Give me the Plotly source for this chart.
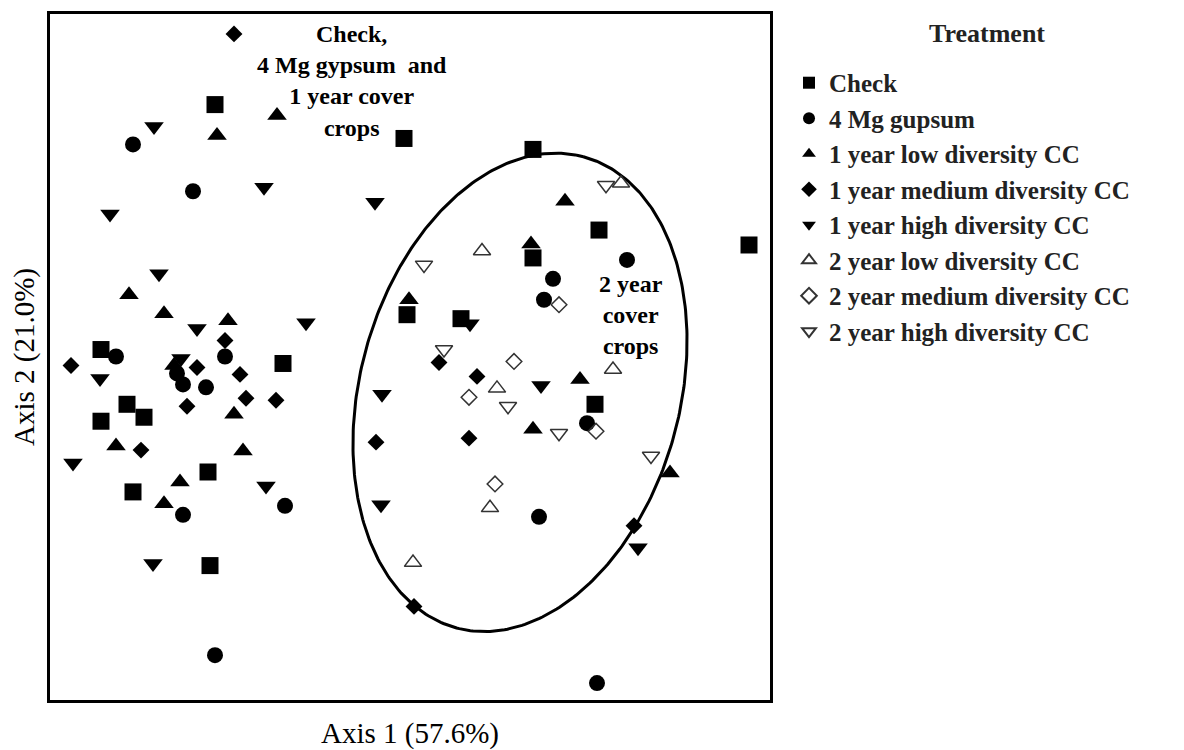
import numpy as np
import plotly.graph_objects as go

# ---- data (ordination scores, arbitrary units) ----
check_x = [165, 354, 483, 549, 699, 483, 357, 411, 545, 51, 233, 77, 94, 51, 158, 83, 160]
check_y = [598, 564, 553, 472, 457, 444, 387, 383, 297, 352, 338, 297, 284, 280, 229, 209, 135]

gyp_x = [83, 143, 577, 503, 494, 66, 175, 133, 156, 537, 235, 133, 489, 165, 547, 127]
gyp_y = [558, 511, 442, 423, 402, 345, 345, 317, 314, 278, 195, 186, 184, 45, 17, 328]

low1_x = [227, 167, 515, 481, 359, 79, 114, 178, 124, 530, 184, 66, 193, 483, 130, 114, 620]
low1_y = [587, 567, 501, 458, 402, 407, 388, 381, 336, 322, 287, 255, 250, 272, 219, 197, 228]

med1_x = [184, 175, 21, 147, 190, 137, 196, 226, 91, 389, 427, 326, 419, 364, 584]
med1_y = [669, 361, 336, 334, 327, 295, 303, 301, 251, 339, 325, 259, 263, 94, 175]

high1_x = [104, 214, 60, 325, 109, 147, 256, 131, 50, 420, 332, 491, 23, 216, 331, 103, 588]
high1_y = [576, 515, 488, 500, 428, 373, 379, 343, 323, 378, 307, 316, 238, 215, 196, 137, 153]

low2_x = [571, 432, 563, 447, 440, 363]
low2_y = [519, 451, 332, 313, 193, 138]

med2_x = [509, 464, 419, 546, 445]
med2_y = [397, 340, 304, 270, 217]

high2_x = [556, 374, 394, 458, 509, 601]
high2_y = [517, 437, 352, 295, 268, 245]

names = ["Check", "4 Mg gupsum", "1 year low diversity CC", "1 year medium diversity CC",
         "1 year high diversity CC", "2 year low diversity CC", "2 year medium diversity CC",
         "2 year high diversity CC"]

# ellipse (2 year cover crops grouping)
ell_cx, ell_cy, ell_a, ell_b, ell_tilt_deg = 470, 309, 245, 160, 15

FONT = "Liberation Serif"

fig = go.Figure()

series = [
    (check_x, check_y, "square", 17, "black", 0),
    (gyp_x, gyp_y, "circle", 16, "black", 0),
    (low1_x, low1_y, "triangle-up", 17, "black", 0),
    (med1_x, med1_y, "diamond", 13, "black", 0),
    (high1_x, high1_y, "triangle-down", 17, "black", 0),
    (low2_x, low2_y, "triangle-up-open", 15, "#333333", 1.5),
    (med2_x, med2_y, "diamond-open", 12, "#333333", 1.5),
    (high2_x, high2_y, "triangle-down-open", 15, "#333333", 1.5),
]

# ellipse line
t = np.linspace(0, 2 * np.pi, 361)
th = np.deg2rad(ell_tilt_deg)
ux, uy = np.sin(th), np.cos(th)
vx, vy = np.cos(th), -np.sin(th)
ex = ell_cx + ell_a * np.cos(t) * ux + ell_b * np.sin(t) * vx
ey = ell_cy + ell_a * np.cos(t) * uy + ell_b * np.sin(t) * vy
fig.add_trace(go.Scatter(x=ex, y=ey, mode="lines", line=dict(color="black", width=3),
                         showlegend=False, hoverinfo="skip"))

for (xs, ys, sym, size, col, lw), name in zip(series, names):
    fig.add_trace(go.Scatter(
        x=xs, y=ys, mode="markers", name=name,
        marker=dict(symbol=sym, size=size, color=col,
                    line=dict(width=lw, color=col)),
    ))

fig.add_annotation(x=302, y=622, xref="x", yref="y", showarrow=False,
                   text="<b>Check,<br>4 Mg gypsum  and<br>1 year cover<br>crops</b>",
                   font=dict(family=FONT, size=24, color="black"), align="center")
fig.add_annotation(x=581, y=387, xref="x", yref="y", showarrow=False,
                   text="<b>2 year<br>cover<br>crops</b>",
                   font=dict(family=FONT, size=24, color="black"), align="center")
fig.add_annotation(x=1.301, y=0.971, xref="paper", yref="paper", showarrow=False,
                   text="<b>Treatment</b>", xanchor="center", yanchor="middle",
                   font=dict(family=FONT, size=26, color="#222222"))

axis_common = dict(showgrid=False, zeroline=False, showticklabels=False, ticks="",
                   showline=True, mirror=True, linecolor="black", linewidth=3)

# page has an 8px body margin: figure is sized to fill the 1184x750 window
fig.update_layout(
    width=1176, height=742,
    margin=dict(l=42, r=414, t=3, b=50),
    paper_bgcolor="white", plot_bgcolor="white",
    font=dict(family=FONT, color="black"),
    xaxis=dict(range=[0, 720], title=dict(text="Axis 1 (57.6%)", standoff=24,
               font=dict(family=FONT, size=29)), **axis_common),
    yaxis=dict(range=[0, 689], title=dict(text="Axis 2 (21.0%)", standoff=6,
               font=dict(family=FONT, size=29)), **axis_common),
    legend=dict(x=1.0264, y=0.9330, xanchor="left", yanchor="top",
                itemsizing="constant",
                font=dict(family=FONT, size=25, color="#222222", weight="bold"),
                ),
)

fig.write_html("out.html")
